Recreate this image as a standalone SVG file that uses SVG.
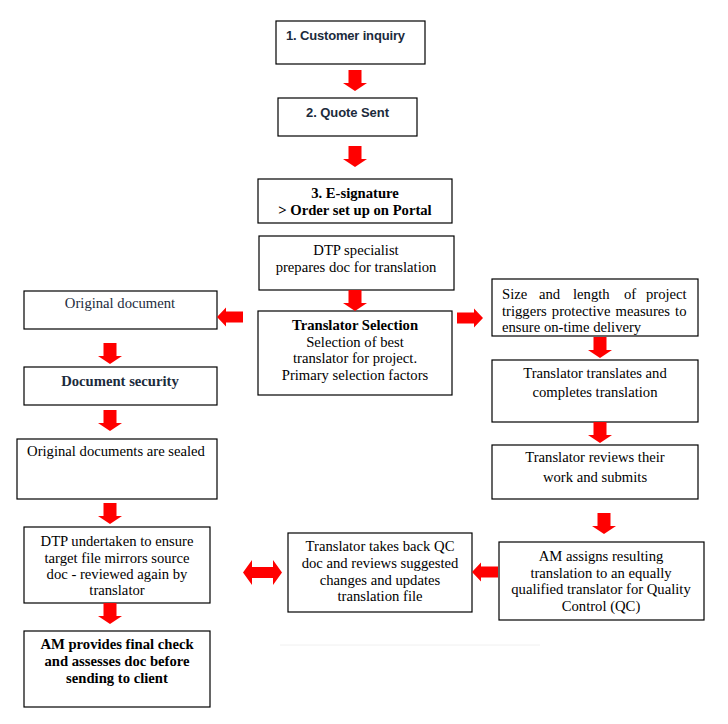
<svg xmlns="http://www.w3.org/2000/svg" xmlns:xlink="http://www.w3.org/1999/xlink" width="728" height="724" viewBox="0 0 728 724">
<style>
.box{fill:#fff;stroke:#000;stroke-width:1.2}
.t{font-family:"Liberation Serif","Times New Roman",serif;font-size:14.67px;fill:#000;text-anchor:middle}
.l{text-anchor:start}
.b{font-weight:bold}
.n{fill:#1c2b3c}
.s{font-family:"Liberation Sans",Arial,sans-serif;font-size:13px;font-weight:bold;fill:#1c2b3c}
.arr{fill:#ff0000}
</style>
<defs>
<path id="ad" d="M-6.5,0 H6.5 V13 H12 L0,21 L-12,13 H-6.5 Z"/>
<path id="al" d="M0,0 L9,-9.5 V-5.5 H26 V5.5 H9 V9.5 Z"/>
<path id="ar" d="M0,0 L-9,-9.5 V-5.5 H-26 V5.5 H-9 V9.5 Z"/>
</defs>
<rect width="728" height="724" fill="#fff"/>

<g id="n1"><rect class="box" x="276" y="21" width="149" height="43"/><text class="s" x="286" y="40" textLength="119">1. Customer inquiry</text></g>
<g id="n2"><rect class="box" x="278" y="98" width="139" height="38"/><text class="s" x="306" y="117" textLength="83">2. Quote Sent</text></g>
<g id="n3"><rect class="box" x="258" y="179" width="194" height="44"/><text class="t b" x="355" y="198">3. E-signature</text><text class="t b" x="355" y="215">&gt; Order set up on Portal</text></g>
<g id="n4"><rect class="box" x="259" y="236" width="195" height="54"/><text class="t" x="356" y="255">DTP specialist</text><text class="t" x="356" y="272">prepares doc for translation</text></g>
<g id="n5"><rect class="box" x="258" y="311" width="194" height="84"/><text class="t b" x="355" y="330">Translator Selection</text><text class="t" x="355" y="347">Selection of best</text><text class="t" x="355" y="363">translator for project.</text><text class="t" x="355" y="380">Primary selection factors</text></g>
<g id="n6"><rect class="box" x="24" y="291" width="193" height="38"/><text class="t n" x="120" y="308">Original document</text></g>
<g id="n7"><rect class="box" x="24" y="367" width="193" height="38"/><text class="t b n" x="120" y="386">Document security</text></g>
<g id="n8"><rect class="box" x="17" y="439" width="200" height="60"/><text class="t" x="116" y="456">Original documents are sealed</text></g>
<g id="n9"><rect class="box" x="24" y="527" width="186" height="76"/><text class="t" x="117" y="546">DTP undertaken to ensure</text><text class="t" x="117" y="563">target file mirrors source</text><text class="t" x="117" y="579">doc - reviewed again by</text><text class="t" x="117" y="595">translator</text></g>
<g id="n10"><rect class="box" x="24" y="631" width="186" height="76"/><text class="t b" x="117" y="649">AM provides final check</text><text class="t b" x="117" y="666">and assesses doc before</text><text class="t b" x="117" y="683">sending to client</text></g>
<g id="n11"><rect class="box" x="492" y="279" width="206" height="57"/><text class="t l" y="299"><tspan x="502">Size</tspan><tspan x="539">and</tspan><tspan x="573">length</tspan><tspan x="624">of</tspan><tspan x="646">project</tspan></text><text class="t l" x="502" y="316" word-spacing="1.4">triggers protective measures to</text><text class="t l" x="502" y="332">ensure on-time delivery</text></g>
<g id="n12"><rect class="box" x="492" y="360" width="206" height="62"/><text class="t" x="595" y="378">Translator translates and</text><text class="t" x="595" y="397">completes translation</text></g>
<g id="n13"><rect class="box" x="492" y="445" width="206" height="54"/><text class="t" x="595" y="462">Translator reviews their</text><text class="t" x="595" y="482">work and submits</text></g>
<g id="n14"><rect class="box" x="499" y="542" width="205" height="78"/><text class="t" x="601" y="561">AM assigns resulting</text><text class="t" x="601" y="578">translation to an equally</text><text class="t" x="601" y="594">qualified translator for Quality</text><text class="t" x="601" y="611">Control (QC)</text></g>
<g id="n15"><rect class="box" x="288" y="533" width="184" height="79"/><text class="t" x="380" y="551">Translator takes back QC</text><text class="t" x="380" y="568">doc and reviews suggested</text><text class="t" x="380" y="585">changes and updates</text><text class="t" x="380" y="601">translation file</text></g>

<g id="connectors" class="arr">
<use xlink:href="#ad" x="355" y="70"/>
<use xlink:href="#ad" x="355" y="146"/>
<use xlink:href="#ad" x="355" y="290"/>
<use xlink:href="#ad" x="110" y="343"/>
<use xlink:href="#ad" x="110" y="410"/>
<use xlink:href="#ad" x="110" y="503"/>
<use xlink:href="#ad" x="110" y="603"/>
<use xlink:href="#ad" x="600" y="337"/>
<use xlink:href="#ad" x="600" y="422"/>
<use xlink:href="#ad" x="604" y="513"/>
<use xlink:href="#al" x="217" y="317"/>
<use xlink:href="#ar" x="483" y="318"/>
<use xlink:href="#al" x="472" y="572"/>
<path d="M243,572.5 L252,560 V567 H273 V560 L282,572.5 L273,585 V578 H252 V585 Z"/>
</g>
<line x1="280" y1="645" x2="540" y2="645" stroke="#f0f0f0" stroke-width="1"/>
</svg>
